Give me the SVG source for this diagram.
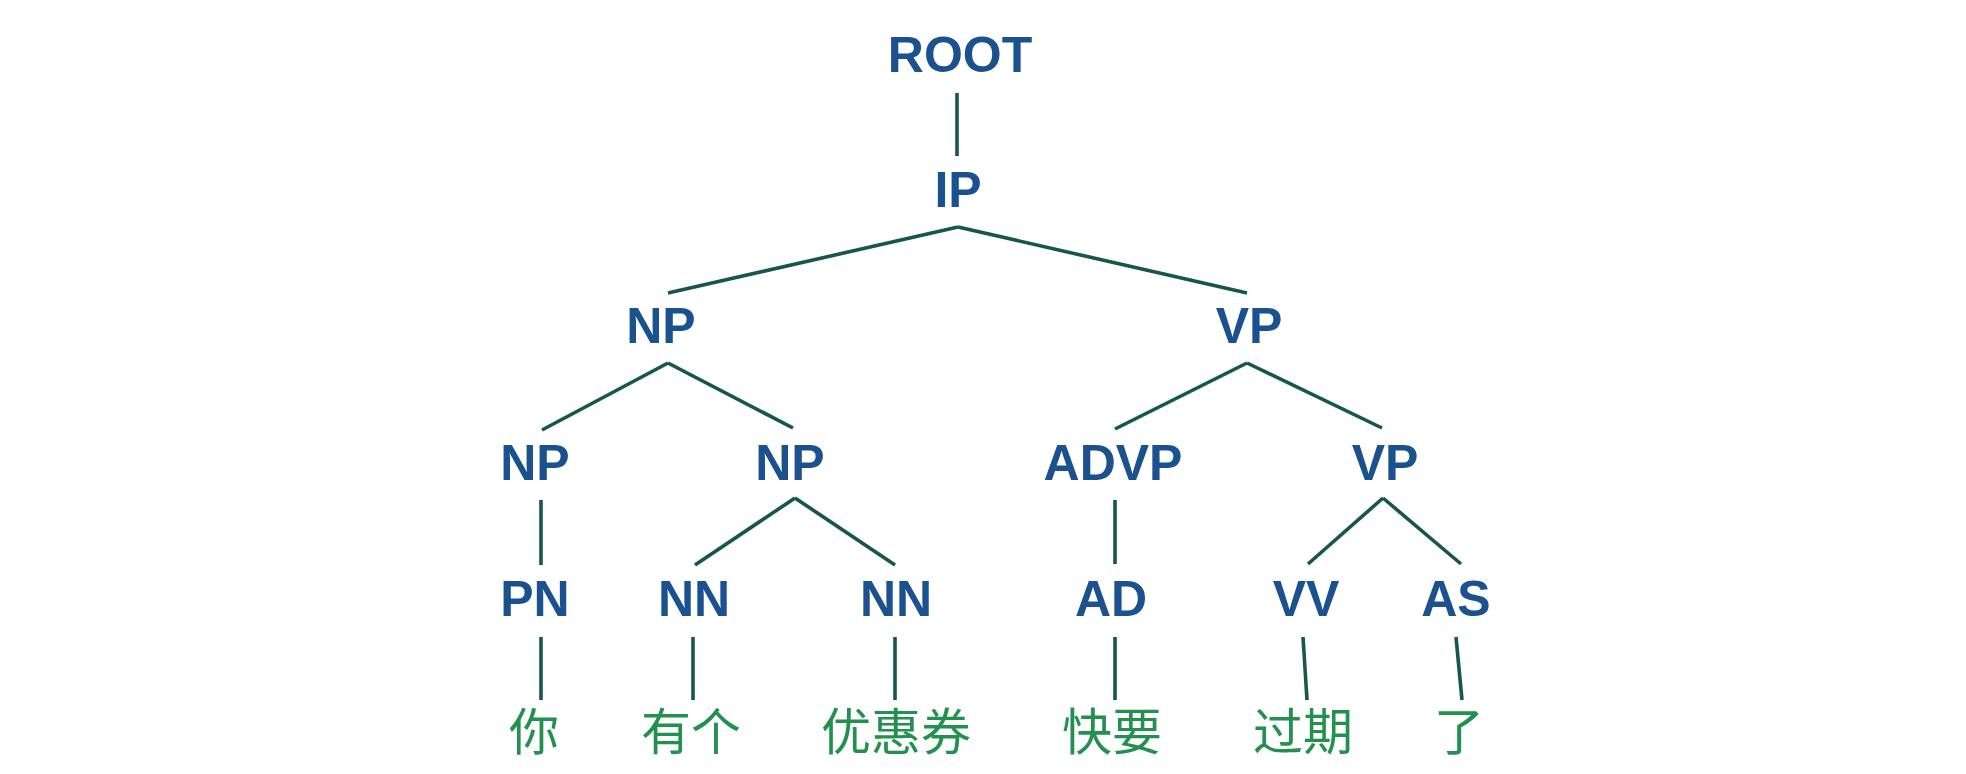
<svg xmlns="http://www.w3.org/2000/svg" width="1966" height="774" viewBox="0 0 1966 774">
<style>
.t{font-family:"Liberation Sans",Arial,sans-serif;font-weight:bold;font-size:50px;fill:#1c5190;text-anchor:middle}
.w{font-family:"Noto Sans CJK SC","Noto Sans",sans-serif;font-size:50px;fill:#22904f;text-anchor:middle}
.e line{stroke:#17564b;stroke-width:3.6;stroke-linecap:butt}
</style>
<rect width="1966" height="774" fill="#ffffff"/>
<g class="e" id="connectors">
<line x1="957" y1="93" x2="957" y2="156"/>
<line x1="958" y1="227" x2="668" y2="293"/>
<line x1="958" y1="227" x2="1247" y2="293"/>
<line x1="668" y1="363" x2="542" y2="430"/>
<line x1="668" y1="363" x2="793" y2="428"/>
<line x1="1247" y1="363" x2="1115" y2="429"/>
<line x1="1247" y1="363" x2="1382" y2="428"/>
<line x1="541" y1="500" x2="541" y2="565"/>
<line x1="795" y1="498" x2="695" y2="565"/>
<line x1="795" y1="498" x2="895" y2="565"/>
<line x1="1115" y1="500" x2="1115" y2="564"/>
<line x1="1383" y1="498" x2="1308" y2="564"/>
<line x1="1383" y1="498" x2="1461" y2="564"/>
<line x1="541" y1="637" x2="541" y2="700"/>
<line x1="693" y1="637" x2="693" y2="700"/>
<line x1="895" y1="637" x2="895" y2="700"/>
<line x1="1115" y1="637" x2="1115" y2="700"/>
<line x1="1303" y1="637" x2="1307" y2="700"/>
<line x1="1456" y1="637" x2="1462" y2="700"/>
</g>
<g id="n-root"><text class="t" x="960" y="72">ROOT</text></g>
<g id="n-ip"><text class="t" x="958" y="207">IP</text></g>
<g id="n-np1"><text class="t" x="661" y="343">NP</text></g>
<g id="n-vp1"><text class="t" x="1249" y="343">VP</text></g>
<g id="n-np2"><text class="t" x="535" y="480">NP</text></g>
<g id="n-np3"><text class="t" x="790" y="480">NP</text></g>
<g id="n-advp"><text class="t" x="1113" y="480">ADVP</text></g>
<g id="n-vp2"><text class="t" x="1385" y="480">VP</text></g>
<g id="n-pn"><text class="t" x="535" y="616">PN</text></g>
<g id="n-nn1"><text class="t" x="694" y="616">NN</text></g>
<g id="n-nn2"><text class="t" x="896" y="616">NN</text></g>
<g id="n-ad"><text class="t" x="1111" y="616">AD</text></g>
<g id="n-vv"><text class="t" x="1306" y="616">VV</text></g>
<g id="n-as"><text class="t" x="1456" y="616">AS</text></g>
<g id="w-ni"><text class="w" x="534" y="750">你</text></g>
<g id="w-youge"><text class="w" x="691" y="750">有个</text></g>
<g id="w-youhuiquan"><text class="w" x="896" y="750">优惠券</text></g>
<g id="w-kuaiyao"><text class="w" x="1112" y="750">快要</text></g>
<g id="w-guoqi"><text class="w" x="1303" y="750">过期</text></g>
<g id="w-le"><text class="w" x="1459" y="750">了</text></g>
</svg>
